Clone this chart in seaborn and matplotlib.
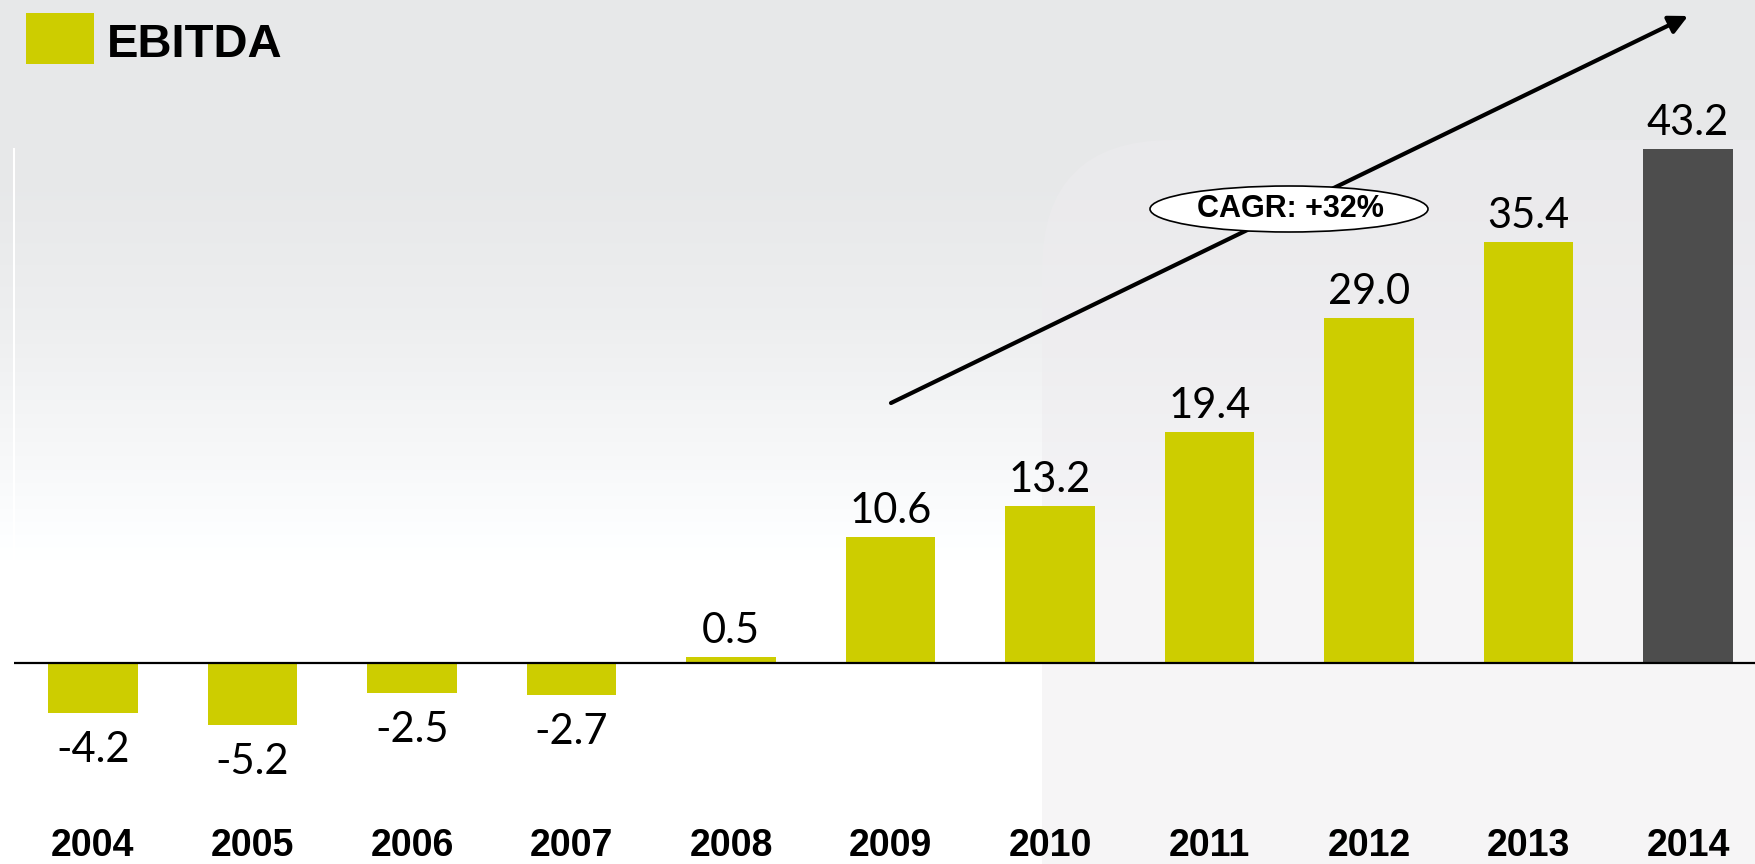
import numpy as np
import pandas as pd
import matplotlib
matplotlib.use("Agg")
import matplotlib.pyplot as plt
import seaborn as sns
from matplotlib.patches import FancyBboxPatch, Ellipse, Rectangle

# ---- data ----
years = ["2004", "2005", "2006", "2007", "2008", "2009", "2010", "2011", "2012", "2013", "2014"]
ebitda = [-4.2, -5.2, -2.5, -2.7, 0.5, 10.6, 13.2, 19.4, 29.0, 35.4, 43.2]
bar_colors = ["#CDCD00"] * 10 + ["#4D4D4D"]
title = "EBITDA"
cagr_text = "CAGR: +32%"

df = pd.DataFrame({"year": years, "ebitda": ebitda})

sns.set_theme(style="white")
plt.rcParams["font.family"] = ["Liberation Sans", "DejaVu Sans"]

W, H = 1756, 864
fig = plt.figure(figsize=(W / 100, H / 100), dpi=100)

# ---- background (gradient + faint watermark) ----
bg = fig.add_axes([0, 0, 1, 1], zorder=-10)
stops_y = [0, 200, 330, 470, 560, 864]
stops_v = [231, 232, 238, 248, 255, 255]
rows = np.interp(np.arange(H), stops_y, stops_v) / 255.0
img = np.repeat(rows[:, None], 4, axis=1)
rgb = np.dstack([img, img + 0.004, img + 0.008]).clip(0, 1)
bg.imshow(rgb, extent=[0, W, H, 0], aspect="auto", interpolation="bilinear")
bg.add_patch(FancyBboxPatch((1042, 140), 900, 900, boxstyle="round,pad=0,rounding_size=130",
                            facecolor="#eeecef", edgecolor="none", alpha=0.5))
bg.set_xlim(0, W)
bg.set_ylim(H, 0)
bg.axis("off")

# ---- main axes ----
px = 11.9            # pixels per unit
base_y = 663
left_px, bottom_px = 14, 822
ax = fig.add_axes([left_px / W, (H - bottom_px) / H, (W - left_px) / W, bottom_px / H], zorder=0)
ax.set_facecolor("none")

sns.barplot(data=df, x="year", y="ebitda", hue="year", palette=bar_colors, legend=False,
            width=0.5625, saturation=1, ax=ax, errorbar=None, linewidth=0, edgecolor="none")

ax.set_xlim(-(93 - left_px) / 159.5, 10 + (W - 1688) / 159.5)
ax.set_ylim(-(bottom_px - base_y) / px, base_y / px)

ax.axhline(0, color="black", lw=1.6, zorder=3)
for s in ["top", "right", "bottom"]:
    ax.spines[s].set_visible(False)
ax.spines["left"].set_color("white")
ax.spines["left"].set_linewidth(1.5)
ax.spines["left"].set_bounds(0, max(ebitda))
ax.set_yticks([])
ax.set_xlabel("")
ax.set_ylabel("")
ax.tick_params(axis="x", length=0, pad=4, labelsize=27, labelcolor="black")
for lbl in ax.get_xticklabels():
    lbl.set_fontweight("bold")

# value labels
lab_font = dict(fontsize=30, family=["Lato", "DejaVu Sans"], color="black")
for cont, v in zip(ax.containers, ebitda):
    txt = f"{v:.1f}"
    if v >= 0:
        ax.bar_label(cont, labels=[txt], padding=5, **lab_font)
    else:
        ax.bar_label(cont, labels=[txt], padding=13, **lab_font)

# ---- title (legend-like) ----
fig.add_artist(Rectangle((26 / W, 1 - 64 / H), 68 / W, 51 / H, transform=fig.transFigure,
                         facecolor="#CDCD00", edgecolor="none"))
fig.text(107 / W, 1 - 57 / H, title, fontsize=34, fontweight="bold", color="black",
         ha="left", va="baseline")

# ---- CAGR arrow and ellipse ----
fig.add_artist(matplotlib.patches.FancyArrowPatch(
    (891 / W, 1 - 403 / H), (1688 / W, 1 - 16 / H), transform=fig.transFigure,
    arrowstyle="-|>", mutation_scale=28, lw=3.0, color="black",
    shrinkA=0, shrinkB=0, zorder=5))
fig.add_artist(Ellipse((1289 / W, 1 - 209 / H), 278 / W, 46 / H, transform=fig.transFigure,
                       facecolor="white", edgecolor="black", lw=1.2, zorder=6))
fig.text(1290 / W, 1 - 217 / H, cagr_text, fontsize=22, fontweight="bold", color="black",
         ha="center", va="baseline", zorder=7)

fig.savefig("out.png", dpi=100)
